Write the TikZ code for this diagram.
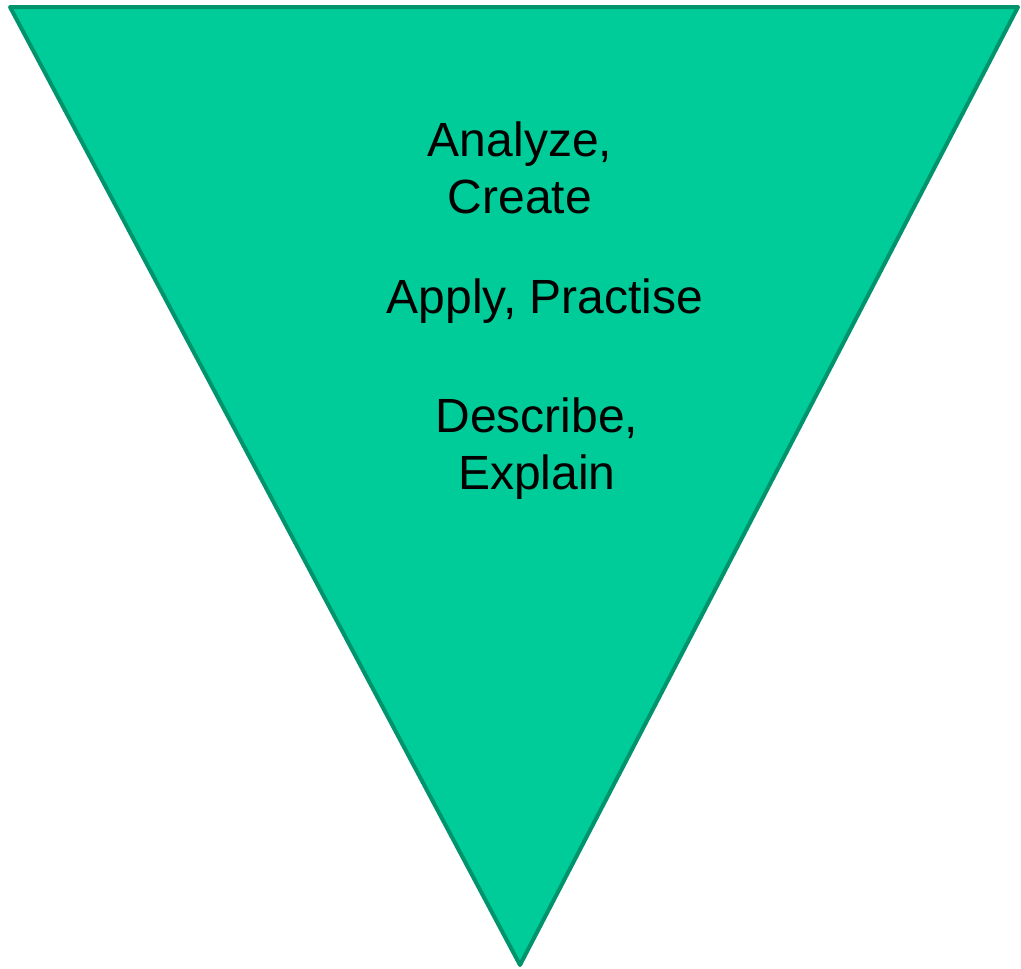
\documentclass[tikz,border=0pt]{standalone}
\usepackage{fontspec}
\setmainfont{Liberation Sans}
\definecolor{tfill}{HTML}{00CC99}
\definecolor{tedge}{HTML}{00936C}
\begin{document}
\begin{tikzpicture}[x=1pt,y=-1pt,
  lbl/.style={font=\fontsize{48}{57}\selectfont, align=center, anchor=base, inner sep=0pt, text=black}]
\useasboundingbox (0,0) rectangle (1021,969);
\coordinate (tl) at (10,7);
\coordinate (tr) at (1018,7);
\coordinate (bt) at (520,965);
\draw[tedge, fill=tfill, line width=4pt, line join=round] (tl) -- (tr) -- (bt) -- cycle;
\node[lbl] (ac) at (520,213) {Analyze,\\Create};
\node[lbl] (ap) at (545,313) {Apply, Practise};
\node[lbl] (de) at (537,489) {Describe,\\Explain};
\end{tikzpicture}
\end{document}
